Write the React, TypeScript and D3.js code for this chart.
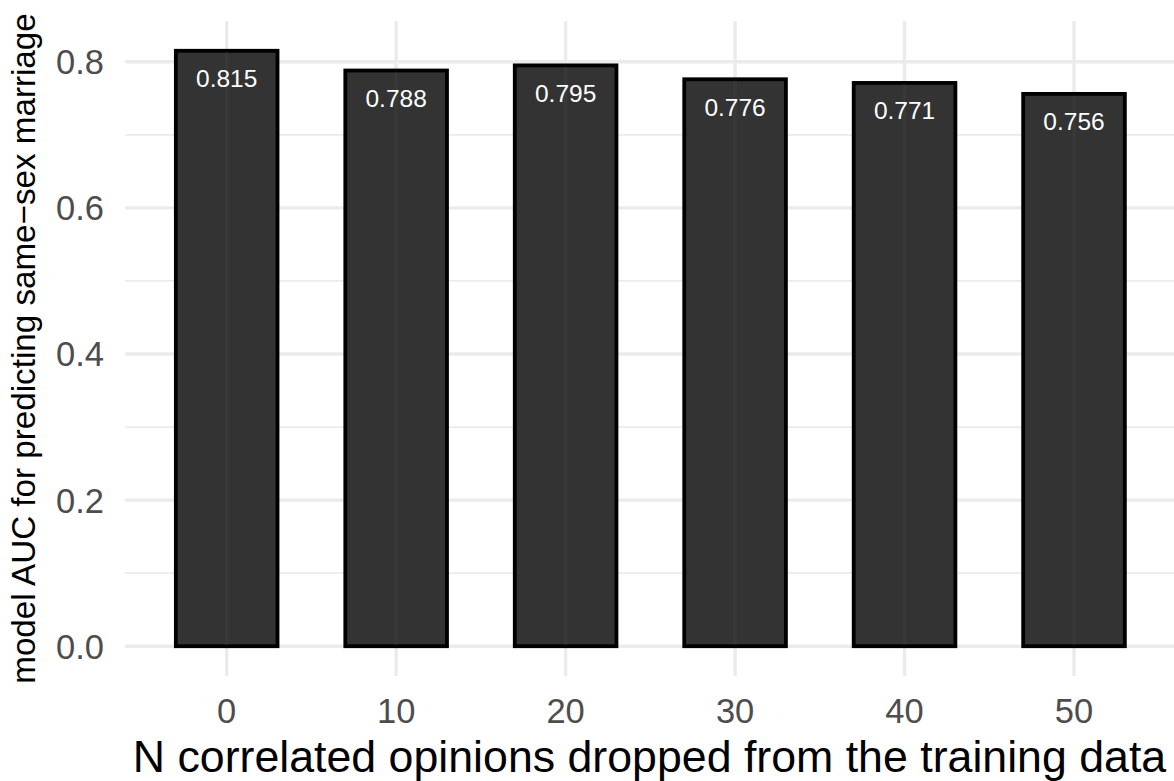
import React from "react";
import * as d3 from "d3";

const categories: number[] = [0, 10, 20, 30, 40, 50];
const aucValues: number[] = [0.815, 0.788, 0.795, 0.776, 0.771, 0.756];
const yTicks: number[] = [0, 0.2, 0.4, 0.6, 0.8];
const yMinorTicks: number[] = [0.1, 0.3, 0.5, 0.7];
const xTicks: number[] = [0, 10, 20, 30, 40, 50];
const xTitle = "N correlated opinions dropped from the training data";
const yTitle = "model AUC for predicting same\u2212sex marriage";

const W = 1174;
const H = 781;
const BAR_WIDTH = 6;

export default function App() {
  const panel = { left: 125, right: 1174, top: 21, bottom: 676 };
  const x = d3.scaleLinear().domain([-6, 55.9]).range([panel.left, panel.right]);
  const yMax = d3.max(aucValues) as number;
  const pad = yMax * 0.05;
  const y = d3.scaleLinear().domain([-pad, yMax + pad]).range([panel.bottom, panel.top]);
  const font = "'Liberation Sans', Arial, Helvetica, sans-serif";

  return (
    <div style={{ position: "fixed", left: 0, top: 0 }}>
      <svg width={W} height={H} style={{ display: "block", background: "#fff" }} fontFamily={font}>
        {yMinorTicks.map((t) => (
          <line key={"ym" + t} x1={panel.left} x2={panel.right} y1={y(t)} y2={y(t)} stroke="#ebebeb" strokeWidth={1.8} />
        ))}
        {yTicks.map((t) => (
          <line key={"y" + t} x1={panel.left} x2={panel.right} y1={y(t)} y2={y(t)} stroke="#ebebeb" strokeWidth={3.4} />
        ))}
        {xTicks.map((t) => (
          <line key={"x" + t} x1={x(t)} x2={x(t)} y1={panel.top} y2={panel.bottom} stroke="#ebebeb" strokeWidth={3.4} />
        ))}
        {categories.map((c, i) => (
          <rect
            key={"b" + c}
            x={x(c - BAR_WIDTH / 2)}
            width={x(c + BAR_WIDTH / 2) - x(c - BAR_WIDTH / 2)}
            y={y(aucValues[i])}
            height={y(0) - y(aucValues[i])}
            fill="#333333"
            stroke="#000"
            strokeWidth={3.8}
          />
        ))}
        {categories.map((c, i) => (
          <line key={"s" + c} x1={x(c)} x2={x(c)} y1={y(0)} y2={y(aucValues[i])} stroke="rgba(235,235,235,0.03)" strokeWidth={3.4} />
        ))}
        {categories.map((c, i) => (
          <text key={"l" + c} x={x(c)} y={y(aucValues[i]) + 36.5} textAnchor="middle" fontSize={24.5} fill="#ffffff">
            {aucValues[i].toFixed(3)}
          </text>
        ))}
        {yTicks.map((t) => (
          <text key={"yt" + t} x={104} y={y(t) + 12.5} textAnchor="end" fontSize={34.5} fill="#4d4d4d">
            {t.toFixed(1)}
          </text>
        ))}
        {xTicks.map((t) => (
          <text key={"xt" + t} x={x(t)} y={722.5} textAnchor="middle" fontSize={34.5} fill="#4d4d4d">
            {t}
          </text>
        ))}
        <text x={(panel.left + panel.right) / 2} y={772} textAnchor="middle" fontSize={44.7} fill="#000">
          {xTitle}
        </text>
        <text
          transform={`translate(35, ${(panel.top + panel.bottom) / 2}) rotate(-90)`}
          textAnchor="middle"
          fontSize={33.2}
          fill="#000"
        >
          {yTitle}
        </text>
      </svg>
    </div>
  );
}
